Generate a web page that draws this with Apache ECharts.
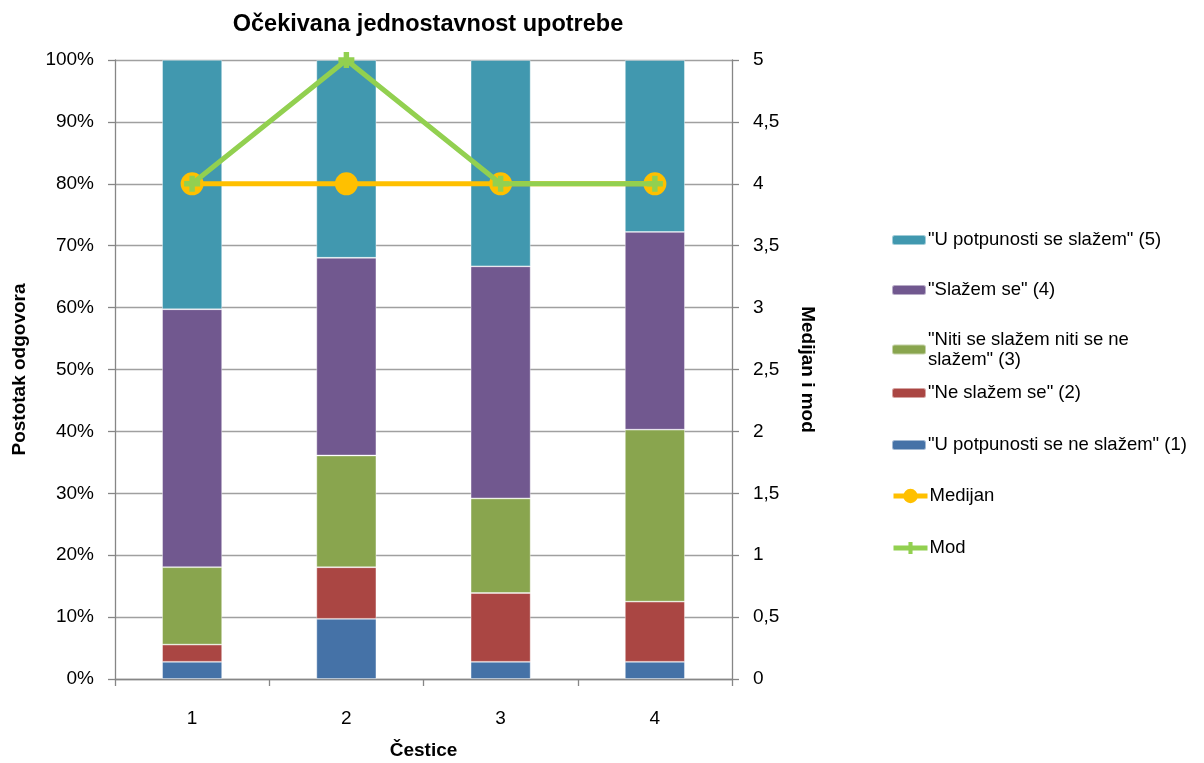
<!DOCTYPE html>
<html><head><meta charset="utf-8">
<script src="https://cdn.jsdelivr.net/npm/echarts@6/dist/echarts.min.js"></script>
<style>html,body{margin:0;padding:0;background:#fff}#c{width:1204px;height:763px}</style>
</head><body><div id="c"></div>
<script>
const categories = ['1', '2', '3', '4'];
const seriesNames = ['"U potpunosti se ne slažem" (1)', '"Ne slažem se" (2)', '"Niti se slažem niti se ne slažem" (3)', '"Slažem se" (4)', '"U potpunosti se slažem" (5)'];
const s1 = [2.78, 9.72, 2.78, 2.78];
const s2 = [2.78, 8.33, 11.11, 9.72];
const s3 = [12.50, 18.06, 15.28, 27.78];
const s4 = [41.67, 31.94, 37.50, 31.94];
const s5 = [40.28, 31.94, 33.33, 27.78];
const medijan = [4, 4, 4, 4];
const mod = [4, 5, 4, 4];
const leftTicks = ['0%','10%','20%','30%','40%','50%','60%','70%','80%','90%','100%'];

const colors = ['#4572A7', '#AA4643', '#89A54E', '#71588F', '#4198AF'];
const FONT = '"Liberation Sans Narrow", "Arial Narrow", "Liberation Sans", sans-serif';
const stackVals = [s1, s2, s3, s4, s5];

const chart = echarts.init(document.getElementById('c'));
const bars = stackVals.map((d, i) => ({
  name: seriesNames[i], type: 'bar', stack: 'a', data: d, barWidth: 60,
  itemStyle: { color: colors[i], borderColor: 'rgba(255,255,255,0.5)', borderWidth: 0.8 },
  yAxisIndex: 0
}));
const plusPath = 'path://M3.3,0H6.7V3.3H10V6.7H6.7V10H3.3V6.7H0V3.3H3.3Z';
const lines = [
  { name: 'Medijan', type: 'line', yAxisIndex: 1, data: medijan, symbol: 'circle', symbolSize: 23,
    lineStyle: { color: '#FFC000', width: 5 }, itemStyle: { color: '#FFC000' }, z: 5 },
  { name: 'Mod', type: 'line', yAxisIndex: 1, data: mod, symbol: plusPath, symbolSize: 16,
    lineStyle: { color: '#92D050', width: 5 }, itemStyle: { color: '#92D050' }, z: 6 }
];

const legendItems = [
  [seriesNames[4], 230, seriesNames[4]],
  [seriesNames[3], 280, seriesNames[3]],
  [seriesNames[2], 331, '"Niti se slažem niti se ne\nslažem" (3)'],
  [seriesNames[1], 383, seriesNames[1]],
  [seriesNames[0], 435, seriesNames[0]],
  ['Medijan', 486, 'Medijan'],
  ['Mod', 538, 'Mod']
];
const legends = legendItems.map(([n, top, label]) => {
  const isLine = n === 'Medijan' || n === 'Mod';
  const lg = {
    data: [n], left: 891, top: top, orient: 'vertical', padding: 0,
    itemWidth: 34, itemHeight: n === 'Medijan' ? 18 : (n === 'Mod' ? 15 : 10), itemGap: 0,
    formatter: () => label,
    textStyle: { fontFamily: FONT, fontSize: 18.5, color: '#000', lineHeight: 20, padding: [0,0,0,-3] },
    selectedMode: false
  };
  if (isLine) lg.lineStyle = { width: 5 };
  return lg;
});
legends[2].top = 329;
legends[2].textStyle = Object.assign({}, legends[2].textStyle, { verticalAlign: 'top', padding: [1,0,0,-3] });

chart.setOption({
  animation: false,
  title: { text: 'Očekivana jednostavnost upotrebe', left: 423, top: 8, textAlign: 'center',
    textStyle: { fontFamily: FONT, fontSize: 23.5, fontWeight: 'bold', color: '#000' } },
  legend: legends,
  grid: { left: 115, right: 472, top: 60, bottom: 84, outerBoundsMode: 'none', containLabel: false },
  xAxis: { type: 'category', data: categories, name: 'Čestice', nameLocation: 'middle', nameGap: 62,
    nameTextStyle: { fontFamily: FONT, fontSize: 19, fontWeight: 'bold', color: '#000' },
    axisLine: { lineStyle: { color: '#868686', width: 1.3 } },
    axisTick: { show: true, length: 7, lineStyle: { color: '#868686', width: 1.3 } },
    axisLabel: { fontFamily: FONT, fontSize: 19, color: '#000', margin: 30 } },
  yAxis: [
    { type: 'value', min: 0, max: 100, interval: 10, position: 'left',
      name: 'Postotak odgovora', nameLocation: 'middle', nameGap: 86, nameRotate: 90,
      nameTextStyle: { fontFamily: FONT, fontSize: 19, fontWeight: 'bold', color: '#000' },
      axisLine: { show: true, lineStyle: { color: '#868686', width: 1.3 } },
      axisTick: { show: true, length: 7, lineStyle: { color: '#868686', width: 1.3 } },
      splitLine: { lineStyle: { color: '#A0A0A0', width: 1.3 } },
      axisLabel: { fontFamily: FONT, fontSize: 19, color: '#000', margin: 21,
        formatter: v => leftTicks[Math.round(v / 10)] } },
    { type: 'value', min: 0, max: 5, interval: 0.5, position: 'right',
      name: 'Medijan i mod', nameLocation: 'middle', nameGap: 66, nameRotate: -90,
      nameTextStyle: { fontFamily: FONT, fontSize: 19, fontWeight: 'bold', color: '#000' },
      axisLine: { show: true, lineStyle: { color: '#868686', width: 1.3 } },
      axisTick: { show: true, length: 7, lineStyle: { color: '#868686', width: 1.3 } },
      splitLine: { show: false },
      axisLabel: { fontFamily: FONT, fontSize: 19, color: '#000', margin: 21,
        formatter: v => String(v).replace('.', ',') } }
  ],
  series: bars.concat(lines)
});
</script></body></html>
